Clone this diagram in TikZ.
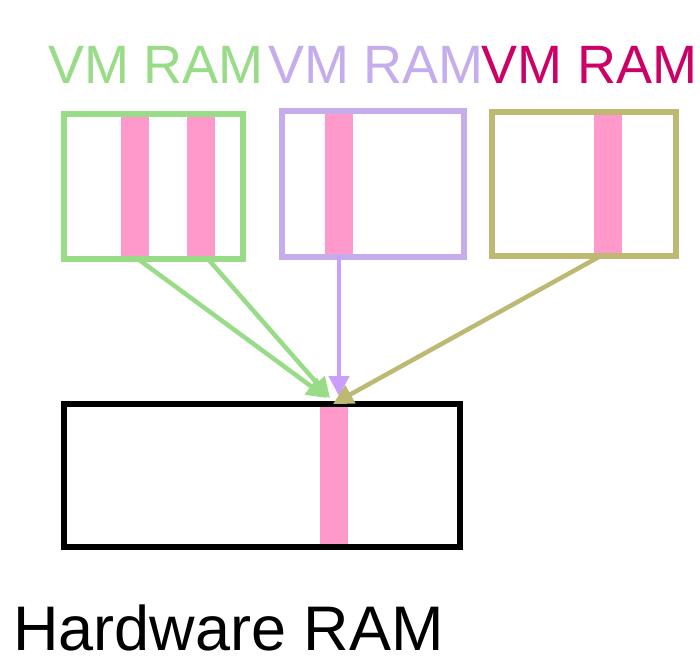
\documentclass[tikz,border=0pt]{standalone}
\usepackage{fontspec}
\setmainfont{Liberation Sans}
\usetikzlibrary{arrows.meta}
\definecolor{vmgreen}{RGB}{152,220,136}
\definecolor{vmpurple}{RGB}{197,173,237}
\definecolor{arrpurple}{RGB}{202,158,252}
\definecolor{vmmag}{RGB}{204,0,102}
\definecolor{vmolive}{RGB}{189,185,115}
\definecolor{strip}{RGB}{255,153,204}
\tikzset{
  box/.style={draw=#1, line width=6pt, inner sep=0pt, outer sep=0pt},
  pstrip/.style={fill=strip, draw=none, inner sep=0pt, outer sep=0pt, minimum width=28pt},
  lbl/.style={text=#1, font=\fontsize{54}{60}\selectfont, inner sep=0pt, anchor=base},
  conn/.style={draw=#1, line width=4.5pt, -{Triangle[length=20pt,width=20pt]}, shorten <=-2pt}
}
\begin{document}
\begin{tikzpicture}[x=1pt,y=-1pt]
\useasboundingbox (0,0) rectangle (700,657);
% strips
\node[pstrip, minimum height=145pt] (gs1) at (135,186.5) {};
\node[pstrip, minimum height=145pt] (gs2) at (201,186.5) {};
\node[pstrip, minimum height=146pt] (ps) at (339,184) {};
\node[pstrip, minimum height=144pt] (os) at (607.5,184) {};
\node[pstrip, minimum height=143pt] (hs) at (334,475.5) {};
% boxes
\node[box=vmgreen, minimum width=179pt, minimum height=145pt] (gbox) at (153.5,186.5) {};
\node[box=vmpurple, minimum width=182pt, minimum height=146pt] (pbox) at (373,184) {};
\node[box=vmolive, minimum width=184pt, minimum height=144pt] (obox) at (584,184) {};
\node[box=black, minimum width=396pt, minimum height=143pt] (hbox) at (262,475.5) {};
% labels
\node[lbl=vmgreen] (gl) at (156,83) {VM RAM};
\node[lbl=vmpurple] (pl) at (376,83) {VM RAM};
\node[lbl=vmmag] (ml) at (589.5,83) {VM RAM};
\node[inner sep=0pt, anchor=base, font=\fontsize{63}{70}\selectfont] (hl) at (228.5,650) {Hardware RAM};
% targets
\coordinate (t1) at (327,398);
\coordinate (t2) at (330,398);
\coordinate (t3) at (339,396);
\coordinate (t4) at (333,404);
% connectors
\draw[conn=vmgreen] ([xshift=3pt]gs1.south) -- (t1);
\draw[conn=vmgreen] ([xshift=7pt]gs2.south) -- (t2);
\draw[conn=arrpurple] (ps.south) -- (t3);
\draw[conn=vmolive] ([xshift=-7pt]os.south) -- (t4);
\end{tikzpicture}
\end{document}
